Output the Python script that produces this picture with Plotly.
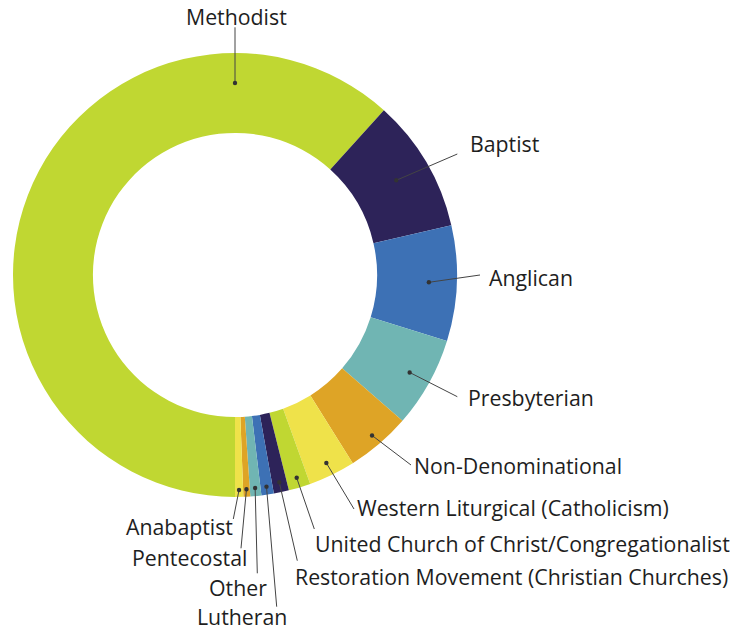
import math
import plotly.graph_objects as go

# ---- data ----
labels = ["Methodist", "Baptist", "Anglican", "Presbyterian", "Non-Denominational",
          "Western Liturgical (Catholicism)", "United Church of Christ/Congregationalist",
          "Restoration Movement (Christian Churches)", "Lutheran", "Other",
          "Pentecostal", "Anabaptist"]
values = [61.7, 9.7, 8.4, 6.6, 4.7, 3.4, 1.6, 1.1, 0.9, 0.8, 0.5, 0.6]
colors = ["#c0d732", "#2d2359", "#3d71b5", "#70b5b3", "#dea426", "#efe24a",
          "#c0d732", "#2d2359", "#3d71b5", "#70b5b3", "#dea426", "#efe24a"]

# ---- layout geometry (window pixels) ----
W, H = 749, 631
OFF = 0                      # page body margin removed via post_script
CX, CY, R = 235, 275, 222    # window pixel coords of the donut
HOLE = 0.64
ROTATION = 180  # first slice starts at 6 o'clock, clockwise

# label layout: dot radius (px), optional angle override, line end (px), text anchor (px), xanchor
label_layout = {
    "Methodist": dict(r=192, angle=0, end=(235, 27.3), txt=(236.7, 16.8), xa="center"),
    "Baptist": dict(r=187, end=(457.3, 154), txt=(469.2, 143.7), xa="left"),
    "Anglican": dict(r=194, end=(480, 275), txt=(487.5, 277.5), xa="left"),
    "Presbyterian": dict(r=200, end=(457.3, 396.7), txt=(466.8, 397.5), xa="left"),
    "Non-Denominational": dict(r=211, end=(411, 465), txt=(413.3, 465.5), xa="left"),
    "Western Liturgical (Catholicism)": dict(r=209, end=(354, 509), txt=(355.8, 507.5), xa="left"),
    "United Church of Christ/Congregationalist": dict(r=212, end=(314.3, 529), txt=(313.5, 543), xa="left"),
    "Restoration Movement (Christian Churches)": dict(r=212, end=(297.3, 560.7), txt=(293.5, 576), xa="left"),
    "Lutheran": dict(r=214, end=(276.7, 606.7), txt=(288, 616.8), xa="right"),
    "Other": dict(r=214, end=(257.3, 573.3), txt=(268, 587.5), xa="right"),
    "Pentecostal": dict(r=214.6, end=(241, 548.3), txt=(248, 557), xa="right"),
    "Anabaptist": dict(r=215, end=(233.3, 519), txt=(234, 526.7), xa="right"),
}

def px(x):
    return (x - OFF) / W

def py(y):
    return 1 - (y - OFF) / H

fig = go.Figure(go.Pie(
    labels=labels, values=values, sort=False, direction="clockwise",
    rotation=ROTATION, hole=HOLE, textinfo="none", hoverinfo="label+percent",
    marker=dict(colors=colors, line=dict(width=0)),
    domain=dict(x=[0, 2 * (CX - OFF) / W],
                y=[py(CY + R), py(CY - R)]),
    showlegend=False,
))

total = sum(values)
shapes, annotations = [], []
cum = 0.0
for lab, v in zip(labels, values):
    mid = ROTATION + (cum + v / 2) / total * 360.0
    cum += v
    L = label_layout[lab]
    ang = math.radians(L.get("angle", mid))
    dx = CX + L["r"] * math.sin(ang)
    dy = CY - L["r"] * math.cos(ang)
    ex, ey = L["end"]
    shapes.append(dict(type="line", xref="paper", yref="paper",
                       x0=px(dx), y0=py(dy), x1=px(ex), y1=py(ey),
                       line=dict(color="#444444", width=1)))
    rd = 2.2
    shapes.append(dict(type="circle", xref="paper", yref="paper",
                       x0=px(dx - rd), y0=py(dy - rd), x1=px(dx + rd), y1=py(dy + rd),
                       fillcolor="#333333", line=dict(width=0)))
    tx, ty = L["txt"]
    annotations.append(dict(text=lab, xref="paper", yref="paper", x=px(tx), y=py(ty),
                            xanchor=L["xa"], yanchor="middle", showarrow=False,
                            borderpad=0,
                            font=dict(family="Open Sans", size=21.3, color="#1e1e1e")))

fig.update_layout(
    width=W, height=H, margin=dict(l=0, r=0, t=0, b=0),
    paper_bgcolor="white", plot_bgcolor="white",
    shapes=shapes, annotations=annotations,
)
fig.write_html("out.html", config={"displayModeBar": False},
               post_script="document.body.style.margin='0';document.body.style.overflow='hidden';")
